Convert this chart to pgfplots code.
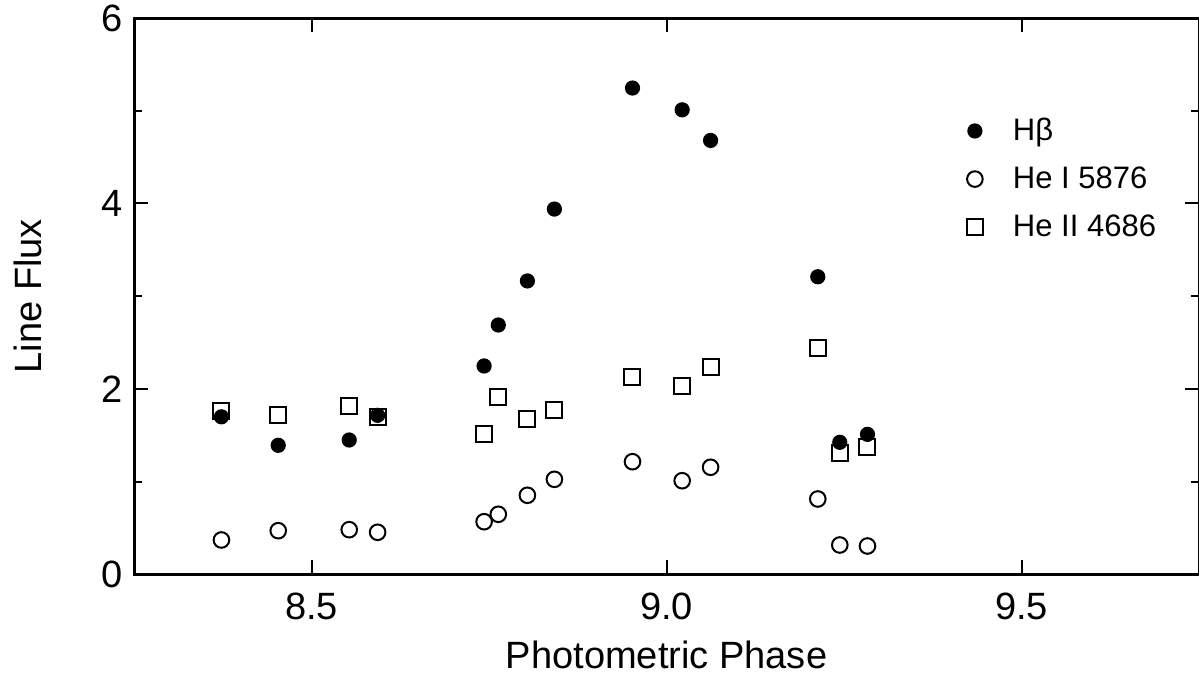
\documentclass[border=0pt]{standalone}
\usepackage{pgfplots}
\pgfplotsset{compat=1.18}
\usepackage{fontspec}
\setmainfont{Liberation Sans}
\begin{document}
\begin{tikzpicture}
\begin{axis}[
  scale only axis,
  width=532pt, height=278pt,
  xmin=8.25, xmax=9.75, ymin=0, ymax=6,
  xtick={8.5,9,9.5}, xticklabels={8.5,9.0,9.5},
  ytick={0,2,4,6}, minor ytick={1,3,5},
  tick align=inside,
  major tick length=7pt, minor tick length=4pt,
  axis line style={line width=1.5pt},
  every tick/.style={black, line width=1pt},
  /pgf/number format/assume math mode=true,
  tick label style={font=\fontsize{19}{22}\selectfont},
  label style={font=\fontsize{19}{22}\selectfont},
  xticklabel style={yshift=-5.9pt},
  yticklabel style={xshift=-2.2pt},
  xlabel={Photometric Phase},
  ylabel={Line Flux},
  xlabel style={at={(axis description cs:0.5,-0.1448)}, anchor=center},
  ylabel style={at={(axis description cs:-0.0996,0.5)}, anchor=center},
  legend cell align=left,
  legend style={draw=none, fill=none, at={(0.776,0.835)}, anchor=north west,
    font=\fontsize{15.5}{18}\selectfont, row sep=7.5pt,
    /tikz/every odd column/.append style={column sep=13pt}},
]
% He II 4686 squares
\addplot[only marks, mark=square, mark size=4pt, mark options={line width=1pt, black}, forget plot] coordinates {
(8.373,1.763) (8.453,1.723) (8.553,1.817) (8.593,1.701)
(8.743,1.511) (8.763,1.914) (8.804,1.673) (8.842,1.774)
(8.952,2.133) (9.022,2.032) (9.062,2.234)
(9.213,2.439) (9.244,1.307) (9.283,1.378)
};
% He I 5876 open circles
\addplot[only marks, mark=o, mark size=3.9pt, mark options={line width=1pt, black}, forget plot] coordinates {
(8.373,0.372) (8.453,0.472) (8.553,0.483) (8.593,0.455)
(8.743,0.569) (8.763,0.649) (8.804,0.854) (8.842,1.026)
(8.952,1.216) (9.022,1.011) (9.062,1.156)
(9.213,0.814) (9.244,0.318) (9.283,0.307)
};
% H beta filled circles
\addplot[only marks, mark=*, mark size=3.4pt, mark options={line width=0.8pt, black, fill=black}, forget plot] coordinates {
(8.373,1.700) (8.453,1.393) (8.553,1.450) (8.593,1.716)
(8.743,2.248) (8.763,2.690) (8.804,3.165) (8.842,3.940)
(8.952,5.245) (9.022,5.010) (9.062,4.680)
(9.213,3.210) (9.244,1.425) (9.283,1.511)
};
\addlegendimage{only marks, mark=*, mark size=3.4pt, mark options={line width=0.8pt, black, fill=black}}
\addlegendentry{Hβ}
\addlegendimage{only marks, mark=o, mark size=3.9pt, mark options={line width=1pt, black}}
\addlegendentry{He I 5876}
\addlegendimage{only marks, mark=square, mark size=4pt, mark options={line width=1pt, black}}
\addlegendentry{He II 4686}
\end{axis}
\pgfresetboundingbox
\path ([shift={(-67pt,-52.25pt)}]current axis.south west) rectangle ([shift={(0pt,9pt)}]current axis.north east);
\end{tikzpicture}
\end{document}
